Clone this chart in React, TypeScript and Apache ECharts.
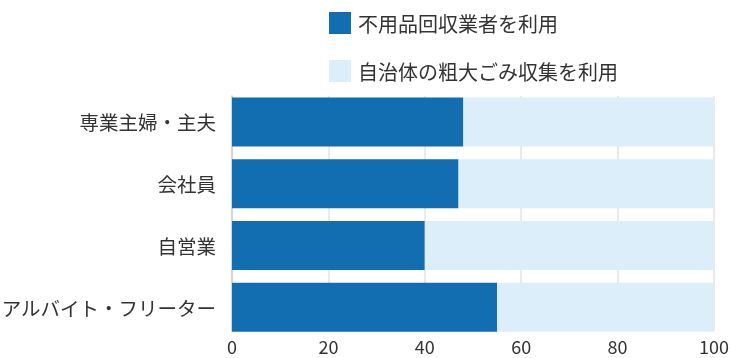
import React, { useEffect, useRef } from "react";
import * as echarts from "echarts";

const categories = ["専業主婦・主夫", "会社員", "自営業", "アルバイト・フリーター"];
const seriesNames = ["不用品回収業者を利用", "自治体の粗大ごみ収集を利用"];
const vendorValues = [48, 47, 40, 55];
const municipalValues = [52, 53, 60, 45];
const xTicks = [0, 20, 40, 60, 80, 100];

const FONT = "'Noto Sans CJK JP', 'Noto Sans', sans-serif";

export default function App() {
  const ref = useRef<HTMLDivElement>(null);
  useEffect(() => {
    if (!ref.current) return;
    const chart = echarts.init(ref.current, undefined, { renderer: "svg" });
    const cats = [...categories].reverse();
    const v1 = [...vendorValues].reverse();
    const v2 = [...municipalValues].reverse();
    chart.setOption({
      animation: false,
      textStyle: { fontFamily: FONT, color: "#333" },
      legend: {
        orient: "vertical",
        left: 324,
        top: 7,
        itemWidth: 22,
        itemHeight: 22,
        itemGap: 26,
        icon: "rect",
        textStyle: { fontSize: 20, color: "#333", fontFamily: FONT, padding: [0, 0, 0, 2] },
        data: seriesNames,
      },
      grid: [
        { left: 232, right: 16, top: 96, bottom: 27, containLabel: false, outerBoundsMode: "none" },
        { left: 232, right: 16, top: 91, bottom: 20, containLabel: false, outerBoundsMode: "none" },
      ],
      xAxis: [
        {
          type: "value",
          gridIndex: 0,
          min: xTicks[0],
          max: xTicks[xTicks.length - 1],
          interval: 20,
          axisLine: { show: false },
          axisTick: { show: false },
          axisLabel: { fontSize: 18, color: "#333", fontFamily: FONT, margin: 6 },
          splitLine: { show: true, lineStyle: { color: "#e3e3e3", width: 1.5 } },
        },
        {
          type: "value",
          gridIndex: 1,
          min: 0,
          max: 100,
          show: false,
        },
      ],
      yAxis: [
        {
          type: "category",
          gridIndex: 0,
          data: cats,
          axisLine: { show: true, lineStyle: { color: "#cccccc", width: 1.5 } },
          axisTick: { show: false },
          axisLabel: { show: false },
          splitLine: { show: false },
        },
        {
          type: "category",
          gridIndex: 1,
          data: cats,
          axisLine: { show: false },
          axisTick: { show: false },
          axisLabel: { fontSize: 19.5, color: "#333", fontFamily: FONT, margin: 16 },
        },
      ],
      series: [
        {
          name: seriesNames[0],
          type: "bar",
          stack: "total",
          xAxisIndex: 1,
          yAxisIndex: 1,
          data: v1,
          barWidth: 49,
          itemStyle: { color: "#136db1" },
        },
        {
          name: seriesNames[1],
          type: "bar",
          stack: "total",
          xAxisIndex: 1,
          yAxisIndex: 1,
          data: v2,
          barWidth: 49,
          itemStyle: { color: "#dceefa" },
        },
      ],
    });
    return () => chart.dispose();
  }, []);
  return <div ref={ref} style={{ width: 730, height: 358, position: "fixed", left: 0, top: 0 }} />;
}
